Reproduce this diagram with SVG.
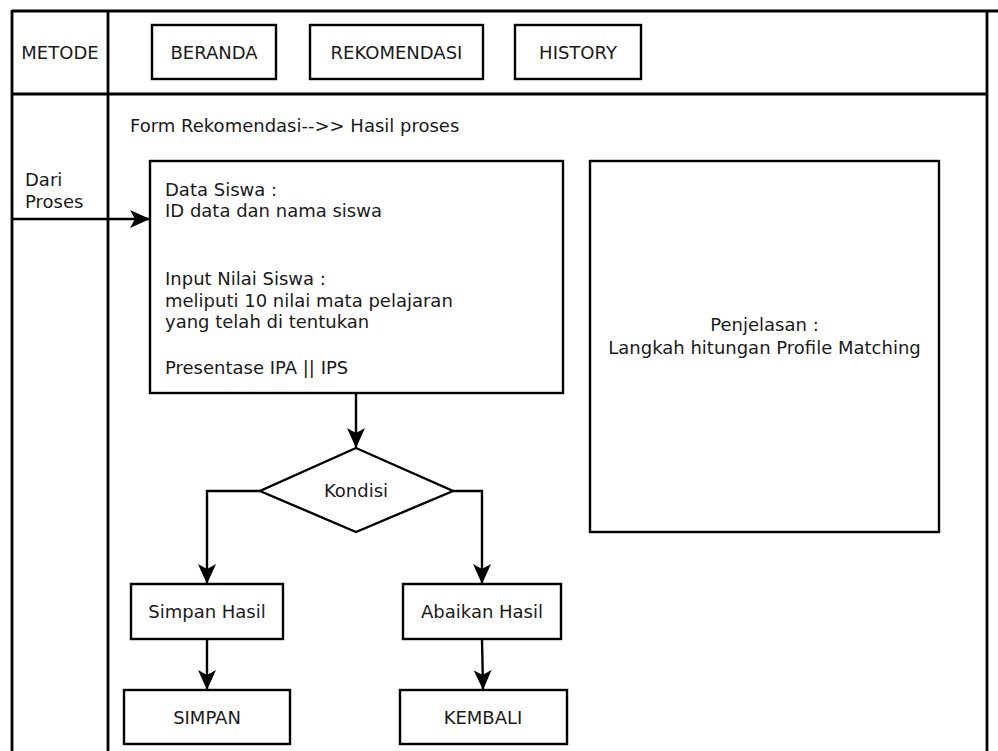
<svg xmlns="http://www.w3.org/2000/svg" width="998" height="751" viewBox="0 0 998 751">
<defs>
<style>
.t{font-family:"DejaVu Sans",Verdana,sans-serif;font-size:18px;fill:#1a1a1a}
.c{text-anchor:middle}
.b{fill:#fff;stroke:#000;stroke-width:2.4}
.f{fill:none;stroke:#000;stroke-width:2.8}
.l{fill:none;stroke:#000;stroke-width:2.4}
</style>
<marker id="ah" viewBox="0 0 20 18" refX="19" refY="9" markerWidth="20" markerHeight="18" markerUnits="userSpaceOnUse" orient="auto">
<path d="M0,0 L20,9 L0,18 L5,9 Z" fill="#000"/>
</marker>
</defs>
<rect width="998" height="751" fill="#fff"/>
<g id="frame">
<line class="f" x1="12" y1="11" x2="998" y2="11"/>
<line class="f" x1="12" y1="10" x2="12" y2="751"/>
<line class="f" x1="108" y1="11" x2="108" y2="751"/>
<line class="f" x1="987" y1="11" x2="987" y2="751"/>
<line class="f" x1="12" y1="94" x2="987" y2="94"/>
<text class="t c" x="60" y="59">METODE</text>
<text class="t" x="130" y="132">Form Rekomendasi--&gt;&gt; Hasil proses</text>
<text class="t" x="25" y="186">Dari</text>
<text class="t" x="25" y="208">Proses</text>
</g>
<g id="beranda"><rect class="b" x="152" y="25" width="124" height="54"/><text class="t c" x="214" y="58.5">BERANDA</text></g>
<g id="rekomendasi"><rect class="b" x="310" y="25" width="173" height="54"/><text class="t c" x="396.5" y="58.5">REKOMENDASI</text></g>
<g id="history"><rect class="b" x="515" y="25" width="126" height="54"/><text class="t c" x="578" y="58.5">HISTORY</text></g>
<g id="data-siswa"><rect class="b" x="150" y="161" width="413" height="232"/>
<text class="t" x="165" y="196">Data Siswa :</text>
<text class="t" x="165" y="217">ID data dan nama siswa</text>
<text class="t" x="165" y="285">Input Nilai Siswa :</text>
<text class="t" x="165" y="307">meliputi 10 nilai mata pelajaran</text>
<text class="t" x="165" y="328">yang telah di tentukan</text>
<text class="t" x="165" y="374">Presentase IPA || IPS</text>
</g>
<g id="penjelasan"><rect class="b" x="590" y="161" width="349" height="371"/>
<text class="t c" x="764.5" y="331">Penjelasan :</text>
<text class="t c" x="764.5" y="354">Langkah hitungan Profile Matching</text>
</g>
<g id="kondisi"><path class="b" d="M356,448 L453,491 L356,532 L260,491 Z"/><text class="t c" x="356" y="497">Kondisi</text></g>
<g id="simpan-hasil"><rect class="b" x="131" y="584" width="152" height="55"/><text class="t c" x="207" y="618">Simpan Hasil</text></g>
<g id="abaikan-hasil"><rect class="b" x="403" y="584" width="158" height="55"/><text class="t c" x="482" y="618">Abaikan Hasil</text></g>
<g id="simpan"><rect class="b" x="124" y="690" width="166" height="54"/><text class="t c" x="207" y="723.5">SIMPAN</text></g>
<g id="kembali"><rect class="b" x="400" y="690" width="167" height="54"/><text class="t c" x="483" y="723.5">KEMBALI</text></g>
<g id="connectors">
<path class="l" d="M12,219 L149,219" marker-end="url(#ah)"/>
<path class="l" d="M356,393 L356,447" marker-end="url(#ah)"/>
<path class="l" d="M260,491 L207,491 L207,583" marker-end="url(#ah)"/>
<path class="l" d="M453,491 L482,491 L482,583" marker-end="url(#ah)"/>
<path class="l" d="M207,639 L207,689" marker-end="url(#ah)"/>
<path class="l" d="M482,639 L483,689" marker-end="url(#ah)"/>
</g>
</svg>
